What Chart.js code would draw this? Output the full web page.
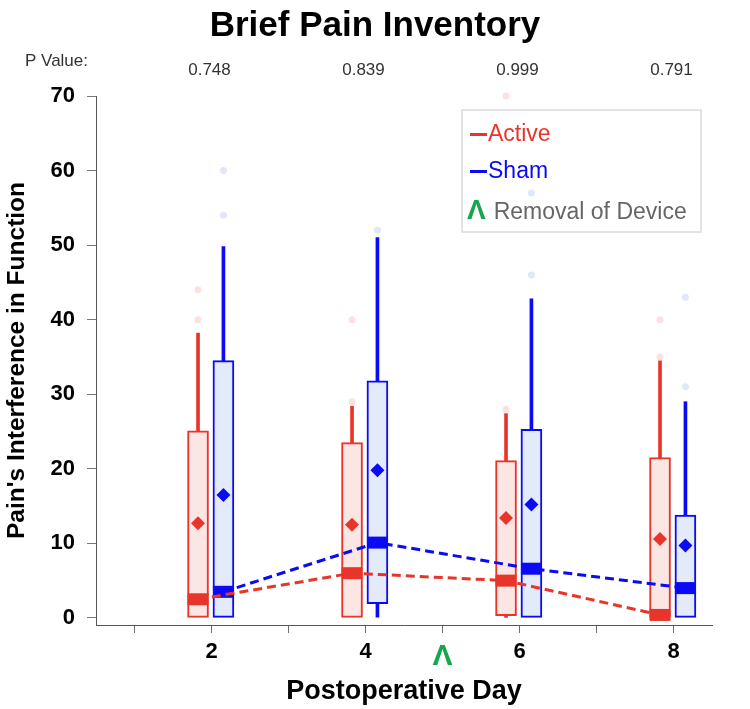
<!DOCTYPE html>
<html>
<head>
<meta charset="utf-8">
<title>Brief Pain Inventory</title>
<script src="https://cdn.jsdelivr.net/npm/chart.js@4.4.1/dist/chart.umd.min.js"></script>
<style>
  body { margin: 0; background: #fff; }
  #wrap { position: relative; width: 750px; height: 709px; }
  #legend {
    position: absolute; left: 461px; top: 109px; width: 237px; height: 120px;
    border: 2px solid #e3e3e3; margin: 0; padding: 0; list-style: none;
    font-family: 'Liberation Sans', Arial, sans-serif; font-size: 23px;
  }
  #legend li { position: absolute; left: 7px; height: 30px; line-height: 30px; white-space: nowrap; }
  .dash { display: inline-block; width: 17px; height: 3px; vertical-align: middle; margin-right: 1px; }
  .caret { font-weight: bold; font-size: 28px; margin-right: 8px; }
</style>
</head>
<body>
<div id="wrap">
  <canvas id="chart" width="750" height="709"></canvas>
  <ul id="legend"></ul>
</div>
<script>
const FONT = "'Liberation Sans', Arial, sans-serif";
const RED = '#e8352a';
const BLUE = '#0a0af5';
const GREEN = '#16a64c';

// x axis
const days = [2, 4, 6, 8];
const xTicks = [1, 2, 3, 4, 5, 6, 7, 8];
const removalDay = 5;
const yTicks = [0, 10, 20, 30, 40, 50, 60, 70];
const pValues = ['0.748', '0.839', '0.999', '0.791'];

// Active group
const activeQ1 = [0, 0, 0.3, 0];
const activeQ3 = [25.1, 23.5, 21.1, 21.5];
const activeMedian = [2.5, 6.0, 5.0, 0.4];
const activeMean = [12.7, 12.5, 13.4, 10.6];
const activeWhiskerLow = [0, 0, 0, 0];
const activeWhiskerHigh = [38.2, 28.4, 27.4, 34.5];
const activeOutliers = [[40, 44], [29, 40], [28, 70], [35, 40]];

// Sham group
const shamQ1 = [0, 1.9, 0, 0];
const shamQ3 = [34.5, 31.8, 25.3, 13.8];
const shamMedian = [3.5, 10.1, 6.6, 4.0];
const shamMean = [16.5, 19.8, 15.2, 9.7];
const shamWhiskerLow = [0, 0.1, 0, 0];
const shamWhiskerHigh = [49.8, 51, 42.8, 29];
const shamOutliers = [[54, 60], [52], [46, 57], [31, 43]];

const seriesNames = ['Active', 'Sham'];
const seriesColors = [RED, BLUE];

// side-by-side placement of the two boxes around each day
const ACTIVE_SHIFT = -0.175;
const SHAM_SHIFT = 0.155;

function boxDatasets(name, color, fill, faint, shift, q1, q3, median, mean, wLow, wHigh, outliers) {
  const xs = days.map((d) => d + shift);
  const whiskers = [];
  const dots = [];
  xs.forEach((x, i) => {
    whiskers.push({ x, y: [q3[i], wHigh[i]] });
    if (wLow[i] < q1[i]) whiskers.push({ x, y: [wLow[i], q1[i]] });
    outliers[i].forEach((v) => dots.push({ x, y: v }));
  });
  return [
    {
      type: 'bar', label: name + ' whiskers', data: whiskers,
      backgroundColor: color, barThickness: 3, grouped: false, order: 6,
    },
    {
      type: 'bar', label: name, data: xs.map((x, i) => ({ x, y: [q1[i], q3[i]] })),
      backgroundColor: fill, borderColor: color, borderWidth: 2, borderSkipped: false,
      barThickness: 21, grouped: false, order: 5,
    },
    {
      type: 'scatter', label: name + ' outliers', data: dots, clip: false,
      pointRadius: 3.5, backgroundColor: faint, borderWidth: 0, order: 4,
    },
    {
      type: 'line', label: name + ' median', data: xs.map((x, i) => ({ x, y: median[i] })),
      borderColor: color, borderWidth: 3, borderDash: [9, 5], fill: false,
      pointStyle: 'line', pointRadius: 10.5, pointBorderWidth: 12, pointBorderColor: color,
      order: 3,
    },
    {
      type: 'scatter', label: name + ' mean', data: xs.map((x, i) => ({ x, y: mean[i] })),
      pointStyle: 'rectRot', pointRadius: 7, backgroundColor: color, borderWidth: 0, order: 2,
    },
  ];
}

const datasets = [
  ...boxDatasets('Active', RED, '#fbe6e3', '#fbe1df', ACTIVE_SHIFT,
    activeQ1, activeQ3, activeMedian, activeMean, activeWhiskerLow, activeWhiskerHigh, activeOutliers),
  ...boxDatasets('Sham', BLUE, '#e3eaf9', '#dfe7f8', SHAM_SHIFT,
    shamQ1, shamQ3, shamMedian, shamMean, shamWhiskerLow, shamWhiskerHigh, shamOutliers),
];

// page title (centred on the canvas) and P values above each day
const headerPlugin = {
  id: 'header',
  afterDraw(c) {
    const ctx = c.ctx;
    const x = c.scales.x;
    ctx.save();
    ctx.textBaseline = 'middle';
    ctx.textAlign = 'center';
    ctx.fillStyle = '#000';
    ctx.font = 'bold 35px ' + FONT;
    ctx.fillText('Brief Pain Inventory', c.width / 2, 26);
    ctx.font = '17px ' + FONT;
    ctx.fillStyle = '#333';
    days.forEach((d, i) => ctx.fillText(pValues[i], x.getPixelForValue(d) - 2, 70));
    ctx.textAlign = 'left';
    ctx.fillText('P Value:', 25, 61);
    ctx.restore();
  },
};

const chart = new Chart(document.getElementById('chart'), {
  type: 'bar',
  data: { datasets },
  options: {
    responsive: false,
    animation: false,
    layout: { padding: { top: 96, right: 38, bottom: 0, left: 0 } },
    plugins: {
      legend: { display: false },
      tooltip: { enabled: false },
      title: { display: false },
    },
    scales: {
      x: {
        type: 'linear',
        min: 0.5,
        max: 8.5,
        offset: false,
        afterBuildTicks: (s) => { s.ticks = xTicks.map((v) => ({ value: v })); },
        afterFit: (s) => { s.height = 84; },
        ticks: {
          autoSkip: false,
          maxRotation: 0,
          padding: 6,
          callback: (v) => (v === removalDay ? 'Λ' : (days.includes(v) ? String(v) : '')),
          color: (c) => (c.tick && c.tick.value === removalDay ? GREEN : '#000'),
          font: (c) => (c.tick && c.tick.value === removalDay
            ? { family: FONT, size: 30, weight: 'bold' }
            : { family: FONT, size: 22, weight: 'bold' }),
        },
        grid: { drawOnChartArea: false, offset: false, tickLength: 8, color: '#6e6e6e' },
        border: { color: '#555', width: 1 },
        title: {
          display: true,
          text: 'Postoperative Day',
          color: '#000',
          font: { family: FONT, size: 27, weight: 'bold' },
          padding: { top: 0, bottom: 1 },
        },
      },
      y: {
        min: -0.95,
        max: 70,
        stacked: false,
        afterBuildTicks: (s) => { s.ticks = yTicks.map((v) => ({ value: v })); },
        afterFit: (s) => { s.width = 96; },
        ticks: { padding: 12, color: '#000', font: { family: FONT, size: 22, weight: 'bold' } },
        grid: { drawOnChartArea: false, tickLength: 9, color: '#777' },
        border: { color: '#555', width: 1 },
        title: {
          display: true,
          text: "Pain's Interference in Function",
          color: '#000',
          font: { family: FONT, size: 24.5, weight: 'bold' },
          padding: { top: 3, bottom: 0 },
        },
      },
    },
  },
  plugins: [headerPlugin],
});

// HTML legend
const ul = document.getElementById('legend');
const rowTops = [7, 44, 84];
seriesNames.forEach((name, i) => {
  const li = document.createElement('li');
  li.style.top = rowTops[i] + 'px';
  const box = document.createElement('span');
  box.className = 'dash';
  box.style.backgroundColor = seriesColors[i];
  const label = document.createElement('span');
  label.style.color = seriesColors[i];
  label.appendChild(document.createTextNode(name));
  li.appendChild(box);
  li.appendChild(label);
  ul.appendChild(li);
});
const removal = document.createElement('li');
removal.style.top = rowTops[2] + 'px';
removal.style.left = '4px';
removal.innerHTML = '<span class="caret" style="color:' + GREEN + '">Λ</span><span style="color:#666">Removal of Device</span>';
ul.appendChild(removal);
</script>
</body>
</html>
